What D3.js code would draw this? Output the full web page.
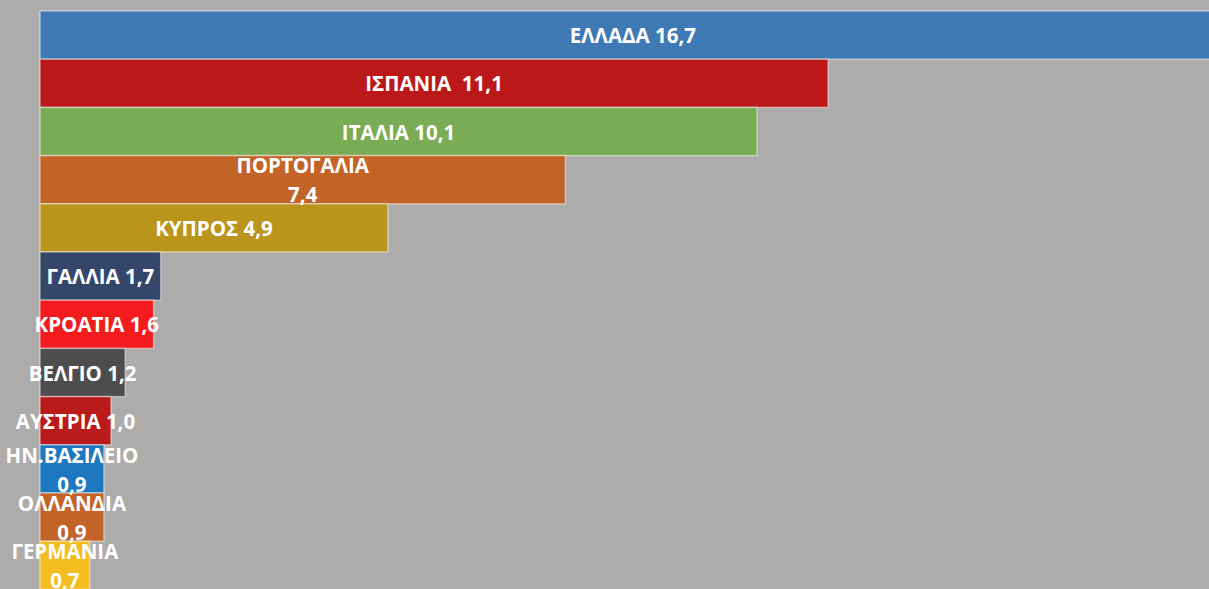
<!DOCTYPE html>
<html lang="el">
<head>
<meta charset="UTF-8">
<title>Bar chart</title>
<script src="https://d3js.org/d3.v7.min.js"></script>
<style>
    body { margin: 0; background: #adacaa; overflow: hidden; }
    .bar { stroke: rgba(255,255,255,0.45); stroke-width: 1.5px; }
    .label { fill: #fff; font-family: "Open Sans", sans-serif; font-weight: 700; font-size: 20.5px; }
</style>
</head>
<body>
<div id="chart"></div>
<script>
    // data
    const countries = ["ΕΛΛΑΔΑ", "ΙΣΠΑΝΙΑ", "ΙΤΑΛΙΑ", "ΠΟΡΤΟΓΑΛΙΑ", "ΚΥΠΡΟΣ", "ΓΑΛΛΙΑ",
        "ΚΡΟΑΤΙΑ", "ΒΕΛΓΙΟ", "ΑΥΣΤΡΙΑ", "ΗΝ.ΒΑΣΙΛΕΙΟ", "ΟΛΛΑΝΔΙΑ", "ΓΕΡΜΑΝΙΑ"];
    const values = [16.7, 11.1, 10.1, 7.4, 4.9, 1.7, 1.6, 1.2, 1.0, 0.9, 0.9, 0.7];
    // label separator between name and value (newline = wrapped label)
    const separators = [" ", "  ", " ", "\n", " ", " ", " ", " ", " ", "\n", "\n", "\n"];
    const colors = ["#3f7ab4", "#bb1919", "#7aac55", "#c26428", "#bb941c", "#34476b",
        "#f21b1e", "#4d4d4d", "#bb1a1a", "#1e78c0", "#c26428", "#f3bc1f"];

    const width = 1209, height = 589;
    const fmt = v => v.toFixed(1).replace(".", ",");

    const svg = d3.select("#chart").append("svg")
        .attr("width", width)
        .attr("height", height);

    const x = d3.scaleLinear().domain([0, 16.45]).range([40, 40 + 1168]);
    const y = d3.scaleBand().domain(countries).range([11, 11 + 12 * 48.2]).padding(0);

    const rows = countries.map((c, i) => ({ name: c, value: values[i], sep: separators[i], color: colors[i] }));

    svg.append("g")
        .selectAll("rect")
        .data(rows)
        .enter().append("rect")
        .attr("class", "bar")
        .attr("x", x(0))
        .attr("y", d => y(d.name))
        .attr("width", d => x(d.value) - x(0))
        .attr("height", y.bandwidth())
        .attr("fill", d => d.color);

    const labels = svg.append("g")
        .selectAll("text")
        .data(rows)
        .enter().append("text")
        .attr("class", "label")
        .attr("text-anchor", "middle");

    labels.each(function(d) {
        const lines = (d.name + d.sep + fmt(d.value)).split("\n");
        const cx = (x(0) + x(d.value)) / 2;
        const cy = y(d.name) + y.bandwidth() / 2 + 1;
        const lh = 29;
        const t = d3.select(this);
        lines.forEach((ln, k) => {
            t.append("tspan")
                .attr("x", cx)
                .attr("y", cy + (k - (lines.length - 1) / 2) * lh)
                .attr("dy", "0.35em")
                .attr("xml:space", "preserve")
                .text(ln);
        });
    });
</script>
</body>
</html>
